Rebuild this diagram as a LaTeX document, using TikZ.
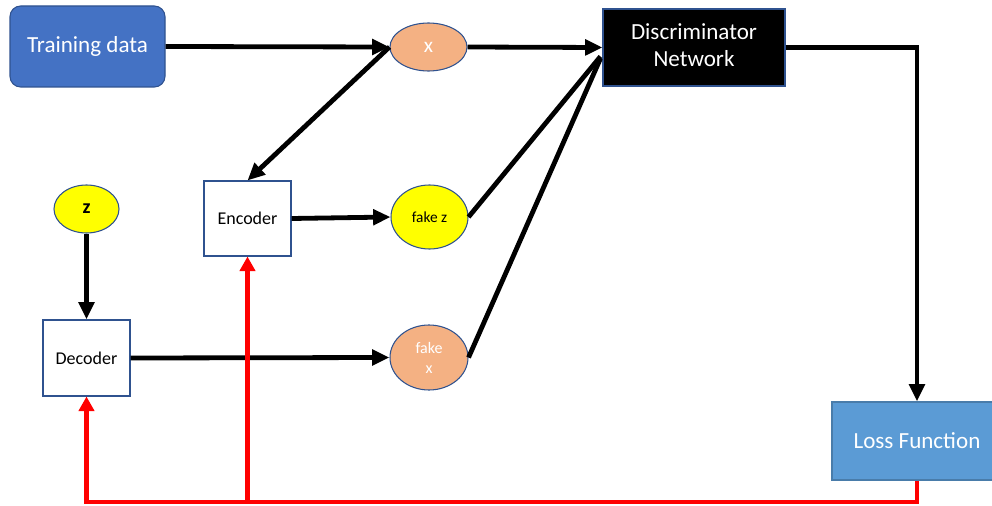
\documentclass[tikz,border=0pt]{standalone}
\usepackage{fontspec}
\setmainfont{Carlito}
\usetikzlibrary{arrows.meta,shapes.geometric}
\definecolor{blueA}{HTML}{4472C4}
\definecolor{blueB}{HTML}{5B9BD5}
\definecolor{edgeblue}{HTML}{2F528F}
\definecolor{peach}{HTML}{F4B183}
\definecolor{sunyellow}{HTML}{FFFF00}
\def\pxu{0.75pt}
\tikzset{
  box/.style={draw=edgeblue, line width=0.8pt, inner sep=0pt, align=center},
  oval/.style={ellipse, draw=edgeblue, line width=0.8pt, inner sep=0pt, align=center},
  flow/.style={line width=3.6pt, -{Triangle[length=13pt,width=11.5pt]}},
  plain/.style={line width=3.6pt},
  back/.style={red, line width=3.6pt, line join=miter},
  backarrow/.style={back, -{Triangle[length=11pt,width=11.5pt]}},
}
\begin{document}
\begin{tikzpicture}[x=\pxu, y=-\pxu]
\useasboundingbox (0,0) rectangle (992,506);

% blocks
\node[box, fill=blueA, rounded corners=8pt, text=white, font=\fontsize{17.3}{20}\selectfont,
      minimum width=155*\pxu, minimum height=81*\pxu] (train) at (87.5,46.5) {\raisebox{-1.5pt}{Training data}};
\node[box, fill=black, text=white, font=\fontsize{17.3}{20.5}\selectfont,
      minimum width=182*\pxu, minimum height=77*\pxu] (disc) at (694,47.5) {\raisebox{-1.5pt}{\begin{tabular}{@{}c@{}}Discriminator\\Network\end{tabular}}};
\node[box, fill=white, font=\fontsize{13.5}{16}\selectfont,
      minimum width=87*\pxu, minimum height=75*\pxu] (enc) at (247.5,218.5) {Encoder};
\node[box, fill=white, font=\fontsize{13.5}{16}\selectfont,
      minimum width=87*\pxu, minimum height=76*\pxu] (dec) at (86.5,358) {Decoder};
\node[box, draw=blueB!80!black, fill=blueB, text=white, font=\fontsize{17.3}{20}\selectfont,
      minimum width=170*\pxu, minimum height=78*\pxu] (loss) at (917,441) {Loss Function};

% variables
\node[oval, fill=peach, text=white, font=\fontsize{16}{18}\selectfont,
      minimum width=77*\pxu, minimum height=48*\pxu] (x) at (428.5,47) {x};
\node[oval, fill=sunyellow, font=\bfseries\fontsize{15}{17}\selectfont,
      minimum width=65*\pxu, minimum height=48*\pxu] (z) at (86.5,209) {z};
\node[oval, fill=sunyellow, font=\fontsize{11.5}{13}\selectfont,
      minimum width=77*\pxu, minimum height=64*\pxu] (fz) at (429.5,217) {fake z};
\node[oval, fill=peach, text=white, font=\fontsize{12}{15}\selectfont,
      minimum width=78*\pxu, minimum height=65*\pxu] (fx) at (429,357.5) {fake\\[0pt]x};

% forward connections
\draw[flow] (train.east) -- (x.west);
\draw[flow] (x.east) -- (disc.west);
\draw[flow] (x.west) -- (enc.north);
\draw[flow] (enc.east) -- (fz.west);
\draw[flow] (z.south) -- (dec.north);
\draw[flow] (dec.east) -- (fx.west);
\draw[plain] (fz.east) -- ([xshift=-2*\pxu, yshift=-9*\pxu]disc.west);
\draw[plain] (fx.east) -- ([xshift=-2*\pxu, yshift=-11*\pxu]disc.west);
\draw[flow, line join=miter] (disc.east) -| (loss.north);

% feedback from the loss
\coordinate (floor) at (0,502);
\draw[backarrow] (loss.south) |- (floor -| dec.south) -- (dec.south);
\draw[backarrow] (floor -| enc.south) -- (enc.south);
\end{tikzpicture}
\end{document}
